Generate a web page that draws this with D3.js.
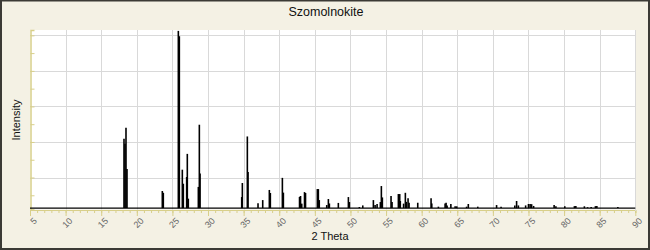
<!DOCTYPE html>
<meta charset="utf-8">
<script src="https://cdn.jsdelivr.net/npm/d3@7"></script>
<style>
	body{margin:0;background:#fff;}
	text{font-family:"Liberation Sans",Arial,sans-serif;}
</style>
<div id="chart"></div>
<script>
// peak positions (2 theta) and heights
var theta = [18.20,18.34,18.48,18.62,23.58,23.72,25.83,25.97,26.39,26.53,27.00,27.09,27.23,28.64,28.78,28.88,
	34.73,34.82,35.52,35.62,37.02,37.68,38.61,38.75,40.44,40.58,42.85,42.99,43.16,43.55,43.69,45.35,45.49,45.62,
	46.67,46.90,47.04,48.30,49.71,49.85,51.25,51.73,53.22,53.46,53.74,54.20,54.34,54.48,55.70,55.84,56.73,56.92,
	57.00,57.46,57.71,57.85,58.09,58.23,59.45,61.32,61.42,62.35,63.29,63.43,63.57,64.10,64.70,64.93,66.31,66.55,
	67.88,70.52,71.15,73.08,73.33,73.58,74.60,75.00,75.23,75.44,75.72,78.60,78.85,80.10,81.45,81.65,82.85,83.30,
	83.80,84.40,84.60,87.55]
var intensity = [41.8,39.0,48.0,24.8,12.4,11.4,102.5,99.5,24.4,16.5,20.3,33.3,8.1,14.7,49.7,22.2,
	9.0,16.9,43.1,23.1,5.5,7.3,13.0,11.3,19.8,11.5,9.1,9.6,5.3,11.8,11.3,13.5,13.5,7.3,
	4.5,7.9,5.4,5.7,9.0,6.2,3.4,4.3,7.3,4.5,5.1,6.2,15.2,8.8,9.6,6.2,10.7,10.7,
	6.8,5.3,11.4,6.3,8.4,5.8,5.8,8.4,5.4,3.6,5.4,5.8,4.3,5.1,3.8,3.8,3.6,5.1,
	3.6,4.5,3.6,4.3,6.8,4.3,4.3,5.1,5.1,5.0,4.0,4.6,3.8,3.8,3.9,3.9,3.8,3.3,
	3.4,3.9,3.9,3.4]
var background = 2.8
var xTicks = [5,10,15,20,25,30,35,40,45,50,55,60,65,70,75,80,85,90]
var yGrid = [20,40,60,80,100]

var width = 650, height = 250

var svg = d3.select("#chart").append("svg")
	.attr("width",width)
	.attr("height",height)

svg.append("rect").attr("x",1).attr("y",0.5).attr("width",648).attr("height",248.5)
	.attr("fill","#f4f1e4").attr("stroke","#3b3a35").attr("stroke-width",2)

var xScale = d3.scaleLinear().domain([5,90]).range([30,635.3])
var yScale = d3.scaleLinear().domain([2,103]).range([209.5,30])

// plot area
svg.append("rect").attr("x",30).attr("y",30).attr("width",605.3).attr("height",179.5).attr("fill","#fff")

// grid
svg.append("g").selectAll("line").data(xTicks.slice(1)).enter().append("line")
	.attr("x1",function(d){return Math.round(xScale(d))+0.5})
	.attr("x2",function(d){return Math.round(xScale(d))+0.5})
	.attr("y1",30).attr("y2",209.5)
	.attr("stroke","#d9d9d9").attr("stroke-width",1)
svg.append("g").selectAll("line").data(yGrid).enter().append("line")
	.attr("x1",30).attr("x2",635.3)
	.attr("y1",function(d){return Math.round(yScale(d))+0.5})
	.attr("y2",function(d){return Math.round(yScale(d))+0.5})
	.attr("stroke","#d9d9d9").attr("stroke-width",1)

// y axis, ticks only
var yAxis = d3.axisRight(yScale).tickValues(d3.range(10,101,10)).tickSize(4).tickFormat("")
var gy = svg.append("g").attr("transform","translate(30.5,0)").call(yAxis)
gy.select(".domain").attr("stroke","#d8cf8a").attr("stroke-width",1.5)
gy.selectAll(".tick line").attr("stroke","#d8cf8a")

// x axis
var xMinor = d3.axisBottom(xScale).tickValues(d3.range(5,91,1)).tickSize(3).tickFormat("")
var gxm = svg.append("g").attr("transform","translate(0,210)").call(xMinor)
gxm.select(".domain").attr("stroke","#d8cf8a")
gxm.selectAll(".tick line").attr("stroke","#d8cf8a")
var xAxis = d3.axisBottom(xScale).tickValues(xTicks).tickSize(6).tickFormat("")
var gx = svg.append("g").attr("transform","translate(0,210)").call(xAxis)
gx.select(".domain").remove()
gx.selectAll(".tick line").attr("stroke","#d8cf8a")

svg.append("g").selectAll("text").data(xTicks).enter().append("text")
	.attr("transform",function(d){return "translate("+(xScale(d)+3)+",217) rotate(-45)"})
	.attr("text-anchor","end")
	.attr("dy","0.7em")
	.attr("font-size",9)
	.attr("fill","#666")
	.text(function(d){return d})

// right edge of plot
svg.append("line").attr("x1",635.5).attr("x2",635.5).attr("y1",30).attr("y2",211)
	.attr("stroke","#d9d9d9")

// pattern: baseline and peaks
svg.append("line")
	.attr("x1",xScale(5)).attr("x2",xScale(90))
	.attr("y1",yScale(background)).attr("y2",yScale(background))
	.attr("stroke","#000").attr("stroke-width",1.3)
svg.append("g").selectAll("line").data(theta).enter().append("line")
	.attr("x1",function(d){return xScale(d)})
	.attr("x2",function(d){return xScale(d)})
	.attr("y1",yScale(background))
	.attr("y2",function(d,i){return yScale(intensity[i])})
	.attr("stroke","#000").attr("stroke-width",1.6)

// titles
svg.append("text").attr("x",326).attr("y",16).attr("text-anchor","middle")
	.attr("font-size",12.5).attr("fill","#111").text("Szomolnokite")
svg.append("text").attr("transform","translate(20,120) rotate(-90)").attr("text-anchor","middle")
	.attr("font-size",11).attr("fill","#111").text("Intensity")
svg.append("text").attr("x",330).attr("y",240).attr("text-anchor","middle")
	.attr("font-size",11).attr("fill","#111").text("2 Theta")
</script>
